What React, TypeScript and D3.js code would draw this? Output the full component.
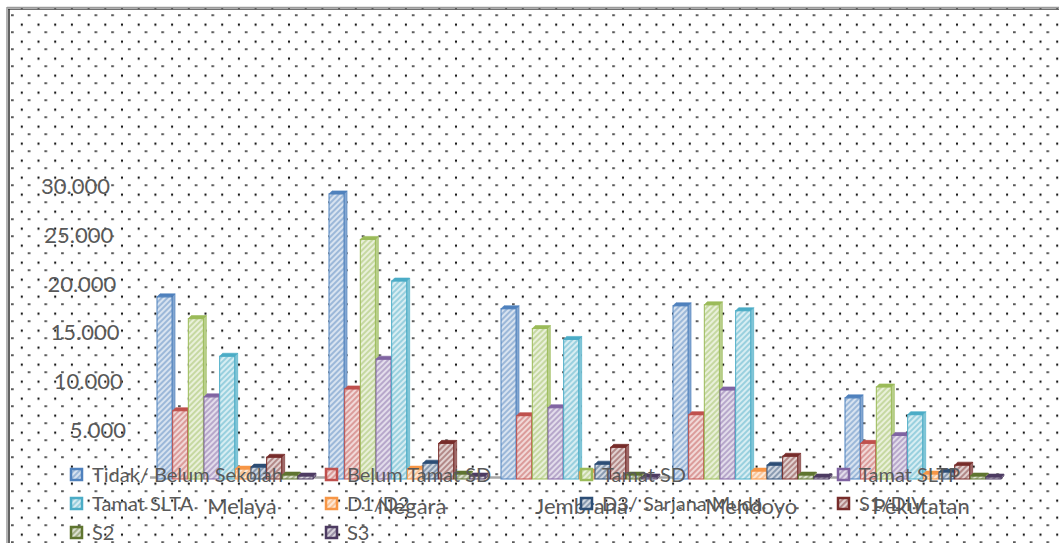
import React from "react";
import * as d3 from "d3";

const categories = ["Melaya", "Negara", "Jembrana", "Mendoyo", "Pekutatan"];
const seriesNames = [
  "Tidak/ Belum Sekolah",
  "Belum Tamat SD",
  "Tamat SD",
  "Tamat SLTP",
  "Tamat SLTA",
  "D1/D2",
  "D3/ Sarjana Muda",
  "S1/DIV",
  "S2",
  "S3",
];
const seriesColors = [
  "#4F81BD",
  "#C0504D",
  "#9BBB59",
  "#8064A2",
  "#4BACC6",
  "#F79646",
  "#2C4D75",
  "#772C2A",
  "#5F7530",
  "#4D3B62",
];
const tidakBelumSekolah = [18400, 28800, 17200, 17500, 8200];
const belumTamatSD = [6900, 9100, 6400, 6500, 3600];
const tamatSD = [16200, 24200, 15200, 17600, 9300];
const tamatSLTP = [8300, 12100, 7200, 9000, 4400];
const tamatSLTA = [12400, 20000, 14100, 17000, 6500];
const d1d2 = [1000, 1000, 700, 800, 500];
const d3SarjanaMuda = [1200, 1600, 1500, 1400, 700];
const s1div = [2200, 3600, 3200, 2300, 1400];
const s2 = [400, 500, 400, 400, 300];
const s3 = [300, 300, 200, 200, 200];
const seriesValues = [
  tidakBelumSekolah,
  belumTamatSD,
  tamatSD,
  tamatSLTP,
  tamatSLTA,
  d1d2,
  d3SarjanaMuda,
  s1div,
  s2,
  s3,
];
const yTicks = [5000, 10000, 15000, 20000, 25000, 30000];
const tickLabels = ["5.000", "10.000", "15.000", "20.000", "25.000", "30.000"];

const W = 1059;
const H = 543;
const FONT = "Lato, 'Open Sans', sans-serif";
const TEXT = "#595959";

export default function App() {
  const y = d3.scaleLinear().domain([0, 30000]).range([479, 182]);
  const x0 = d3.scaleBand<string>().domain(categories).range([157, 157 + 5 * 172]);
  const x1 = d3
    .scaleBand<string>()
    .domain(seriesNames)
    .range([0, 156])
    .paddingInner(0.04);
  const labelX = d3.scalePoint<string>().domain(categories).range([242, 921]);
  const tickY = d3.scaleLinear().domain([5000, 30000]).range([438, 194]);
  const tickX = d3.scaleLinear().domain([5000, 30000]).range([126, 110]);

  const legendCols = [70, 325, 580, 837];
  const legendRows = [482, 511, 540];

  const bw = x1.bandwidth();
  const dx = 3;
  const dy = 3;

  return (
    <svg
      width={W}
      height={H}
      style={{ position: "absolute", left: 0, top: 0, display: "block" }}
    >
      <defs>
        <pattern
          id="dots"
          patternUnits="userSpaceOnUse"
          x={11}
          y={14.5}
          width={16.7}
          height={17}
        >
          <rect x={0} y={0} width={2.7} height={1.3} fill="#000" />
          <rect x={9.8} y={9.2} width={2} height={2} fill="#000" />
        </pattern>
        {seriesColors.map((c, i) => (
          <pattern
            key={i}
            id={`hatch${i}`}
            patternUnits="userSpaceOnUse"
            width={4}
            height={4}
            patternTransform="rotate(45)"
          >
            <rect width={4} height={4} fill={d3.interpolateRgb(c, "#ffffff")(0.78)} />
            <line x1={1} y1={0} x2={1} y2={4} stroke={d3.interpolateRgb(c, "#ffffff")(0.35)} strokeWidth={1.6} />
          </pattern>
        ))}
      </defs>

      <rect x={8} y={8} width={W - 8} height={H - 8} fill="#fff" />
      <rect x={8} y={8} width={W - 8} height={H - 8} fill="url(#dots)" />
      <line x1={7} y1={7.5} x2={W} y2={7.5} stroke="#9a9a9a" strokeWidth={1.5} />
      <line x1={8} y1={9.2} x2={W} y2={9.2} stroke="#303030" strokeWidth={1} />
      <line x1={7} y1={7} x2={7} y2={H} stroke="#9a9a9a" strokeWidth={1.5} />
      <line x1={9} y1={9} x2={9} y2={H} stroke="#303030" strokeWidth={1.5} />

      {/* floor */}
      <line x1={150} y1={477.5} x2={1003} y2={477.5} stroke="#a6a6a6" strokeWidth={2.5} />

      {/* y tick labels */}
      {yTicks.map((t, i) => (
        <text
          key={t}
          x={tickX(t)}
          y={tickY(t)}
          textAnchor="end"
          fontFamily={FONT}
          fontSize={22}
          fill={TEXT}
        >
          {tickLabels[i]}
        </text>
      ))}

      {/* bars */}
      {categories.map((cat, ci) => (
        <g key={cat}>
          {seriesNames.map((s, si) => {
            const v = seriesValues[si][ci];
            const bx = (x0(cat) as number) + (x1(s) as number);
            const top = y(v);
            const base = y(0);
            const c = seriesColors[si];
            return (
              <g key={s}>
                <polygon
                  points={`${bx + bw},${top} ${bx + bw + dx},${top - dy} ${bx + bw + dx},${base - dy} ${bx + bw},${base}`}
                  fill={d3.interpolateRgb(c, "#ffffff")(0.3)}
                  stroke={c}
                  strokeWidth={0.6}
                />
                <rect
                  x={bx}
                  y={top}
                  width={bw}
                  height={base - top}
                  fill={`url(#hatch${si})`}
                  stroke={c}
                  strokeWidth={1}
                />
                <polygon
                  points={`${bx},${top} ${bx + dx},${top - dy} ${bx + bw + dx},${top - dy} ${bx + bw},${top}`}
                  fill={c}
                  stroke={c}
                  strokeWidth={0.6}
                />
              </g>
            );
          })}
        </g>
      ))}

      {/* category labels */}
      {categories.map((cat) => (
        <text
          key={cat}
          x={labelX(cat)}
          y={514}
          textAnchor="middle"
          fontFamily={FONT}
          fontSize={22}
          fill={TEXT}
        >
          {cat}
        </text>
      ))}

      {/* legend */}
      {seriesNames.map((s, i) => {
        const col = i % 4;
        const row = Math.floor(i / 4);
        const lx = legendCols[col];
        const ly = legendRows[row];
        return (
          <g key={s}>
            <rect
              x={lx + 1}
              y={ly - 13}
              width={11}
              height={11}
              fill={`url(#hatch${i})`}
              stroke={seriesColors[i]}
              strokeWidth={2.5}
            />
            <text x={lx + 22} y={ly} fontFamily={FONT} fontSize={20} fill={TEXT}>
              {s}
            </text>
          </g>
        );
      })}
    </svg>
  );
}
